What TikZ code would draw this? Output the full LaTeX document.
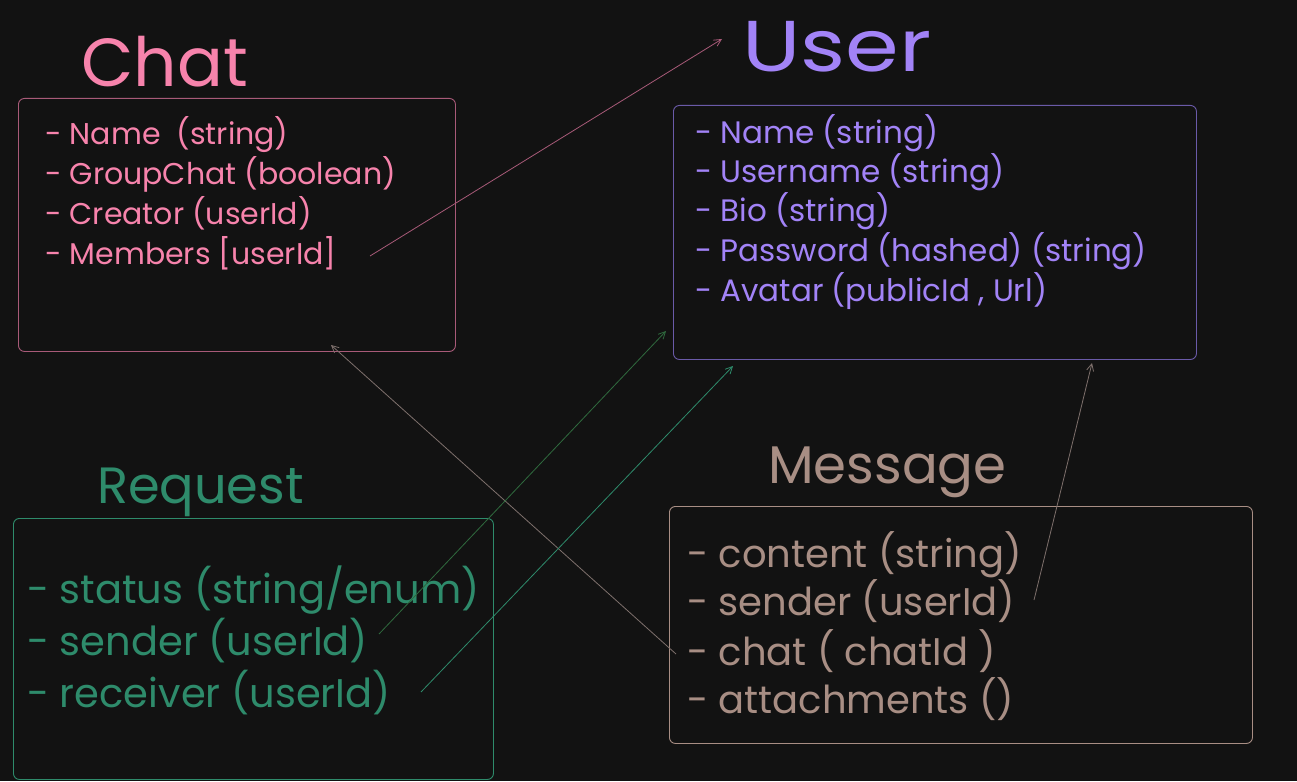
\documentclass[tikz,border=0pt]{standalone}
\usepackage{fontspec}
\setmainfont{Poppins}
\usetikzlibrary{arrows.meta}
\definecolor{bg}{HTML}{121212}
\definecolor{cpink}{HTML}{F783AC}
\definecolor{cpinkline}{HTML}{A85A78}
\definecolor{cpurple}{HTML}{A283F7}
\definecolor{cpurpleline}{HTML}{6A5AA8}
\definecolor{cgreen}{HTML}{2E8B6B}
\definecolor{cgreendark}{HTML}{2F6A3E}
\definecolor{cbrown}{HTML}{A88E84}
\definecolor{cgrey}{HTML}{7E706C}
\tikzset{
  box/.style={draw, rounded corners=6pt, line width=0.9pt, anchor=north west, inner sep=0pt},
  ttl/.style={anchor=base west, inner sep=0pt},
  row/.style={anchor=base west, inner sep=0pt},
  conn/.style={line width=0.8pt, -{Straight Barb[length=7pt,width=7pt]}},
}
\begin{document}
\begin{tikzpicture}[x=1pt,y=-1pt]
\fill[bg] (0,0) rectangle (1297,781);
\useasboundingbox (0,0) rectangle (1297,781);

% ---------- Chat ----------
\node[box, draw=cpinkline, minimum width=437pt, minimum height=253pt] (chatbox) at (18,98) {};
\node[ttl, text=cpink, font=\fontsize{68}{68}\selectfont] (chatt) at (81,87) {Chat};
\begin{scope}[every node/.style={row, text=cpink, font=\fontsize{30}{30}\selectfont}]
\node (c1) at (45,144) {- Name\ \ (string)};
\node (c2) at (45,184) {- GroupChat (boolean)};
\node (c3) at (45,224) {- Creator (userId)};
\node (c4) at (45,264) {- Members [userId]};
\end{scope}

% ---------- User ----------
\node[box, draw=cpurpleline, minimum width=523pt, minimum height=254pt] (userbox) at (673,105) {};
\node[ttl, text=cpurple, font=\fontsize{72}{72}\selectfont] (usert) at (742,72) {\scalebox{1.2}[1]{User}};
\begin{scope}[every node/.style={row, text=cpurple, font=\fontsize{31}{31}\selectfont}]
\node (u1) at (695,143) {- Name (string)};
\node (u2) at (695,182) {- Username (string)};
\node (u3) at (695,221) {- Bio (string)};
\node (u4) at (695,261) {- Password (hashed) (string)};
\node (u5) at (695,301) {- Avatar (publicId , Url)};
\end{scope}

% ---------- Request ----------
\node[box, draw=cgreen, minimum width=480pt, minimum height=261pt] (reqbox) at (13,518) {};
\node[ttl, text=cgreen, font=\fontsize{51}{51}\selectfont] (reqt) at (97,503) {Request};
\begin{scope}[every node/.style={row, text=cgreen, font=\fontsize{40}{40}\selectfont}]
\node (r1) at (27,603) {- status (string/enum)};
\node (r2) at (27,655) {- sender (userId)};
\node (r3) at (27,707) {- receiver (userId)};
\end{scope}

% ---------- Message ----------
\node[box, draw=cbrown, minimum width=583pt, minimum height=237pt] (msgbox) at (669,506) {};
\node[ttl, text=cbrown, font=\fontsize{53}{53}\selectfont] (msgt) at (768,483) {Message};
\begin{scope}[every node/.style={row, text=cbrown, font=\fontsize{38.5}{38.5}\selectfont}]
\node (m1) at (687,567) {- content (string)};
\node (m2) at (687,615) {- sender (userId)};
\node (m3) at (687,665) {- chat ( chatId )};
\node (m4) at (687,713) {- attachments ()};
\end{scope}

% ---------- connector ends ----------
\coordinate (membersEnd) at (370,256);
\coordinate (userTitleTip) at (722,39);
\coordinate (msgChatEnd) at (676,654);
\coordinate (chatBoxTip) at (331,345);
\coordinate (rSenderEnd) at (379,634);
\coordinate (userTipA) at (666,331);
\coordinate (rReceiverEnd) at (421,692);
\coordinate (userTipB) at (733,366);
\coordinate (mSenderEnd) at (1034,600);
\coordinate (userTipC) at (1092,363);

\draw[conn, cpinkline] (membersEnd) -- (userTitleTip);
\draw[conn, cgrey] (msgChatEnd) -- (chatBoxTip);
\draw[conn, cgreendark] (rSenderEnd) -- (userTipA);
\draw[conn, cgreen] (rReceiverEnd) -- (userTipB);
\draw[conn, cgrey] (mSenderEnd) -- (userTipC);
\end{tikzpicture}
\end{document}
